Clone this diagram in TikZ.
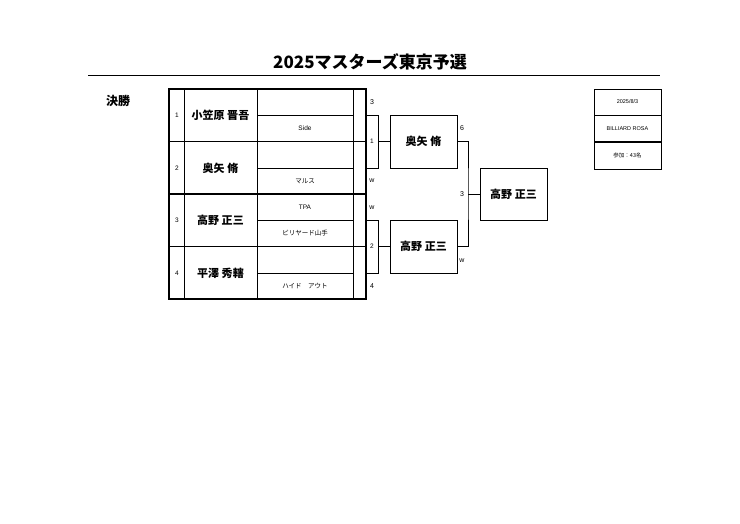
\documentclass[tikz,border=0pt]{standalone}
\usepackage{fontspec}
\setmainfont{Liberation Sans}
\newfontfamily\jp{Noto Sans CJK JP}
\usetikzlibrary{positioning}

\tikzset{
    cell/.style={draw, line width=0.6pt, inner sep=0pt},
    player/.style={font=\jp\bfseries\fontsize{11}{11}\selectfont},
    small/.style={font=\fontsize{6.5}{7}\selectfont},
    score/.style={font=\fontsize{7}{8}\selectfont}
}

\begin{document}
\begin{tikzpicture}[x=1pt, y=-1pt]
\useasboundingbox (0,0) rectangle (740,523);

% title
\node[font=\jp\bfseries\fontsize{17}{17}\selectfont] (title) at (370,62) {2025マスターズ東京予選};
\draw[line width=0.5pt] (88,75) -- (660,75);
\node[font=\jp\bfseries\fontsize{12}{12}\selectfont] (round) at (118,101) {決勝};

% entry table
\draw[line width=0.6pt] (184,89) -- (184,299)
    (257,89) -- (257,299)
    (353,89) -- (353,299);
\foreach \y in {115,168,220,273}
    \draw[line width=0.5pt] (257,\y) -- (353,\y);
\foreach \y in {141.5,194,246.5}
    \draw[line width=1.2pt] (169,\y) -- (366,\y);
\draw[line width=1.2pt] (169,89) rectangle (366,299);

\foreach \n/\name/\y in {1/小笠原 晋吾/115, 2/奥矢 脩/168, 3/高野 正三/220, 4/平澤 秀轄/273} {
    \node[small] (no\n) at (177,\y) {\n};
    \node[player] (p\n) at (220.5,\y) {\name};
}
\node[small] (c1) at (305,128) {Side};
\node[small, font=\jp\fontsize{6.5}{7}\selectfont] (c2) at (305,181) {マルス};
\node[small] (c3) at (305,207) {TPA};
\node[small, font=\jp\fontsize{6.5}{7}\selectfont] (c4) at (305,233) {ビリヤード山手};
\node[small, font=\jp\fontsize{6.5}{7}\selectfont] (c5) at (305,286) {ハイド\quad アウト};

% bracket
\node[cell, minimum width=12pt, minimum height=53pt, small] (s1) at (372,141.5) {1};
\node[cell, minimum width=12pt, minimum height=53pt, small] (s2) at (372,246.5) {2};
\node[cell, minimum width=67pt, minimum height=53pt, player] (b1) at (423.5,141.5) {奥矢 脩};
\node[cell, minimum width=67pt, minimum height=53pt, player] (b2) at (423.5,246.5) {高野 正三};
\node[cell, minimum width=67pt, minimum height=52pt, player] (f) at (513.5,194) {高野 正三};
\coordinate (j) at (468,194);

\draw[line width=0.5pt] (s1) -- (b1);
\draw[line width=0.5pt] (s2) -- (b2);
\draw[line width=0.5pt] (b1.east) -| (j) |- (b2.east);
\draw[line width=0.5pt] (j) -- (f);

\node[score] (r1) at (372,102) {3};
\node[score] (r2) at (372,181) {w};
\node[score] (r3) at (372,208) {w};
\node[score] (r4) at (372,286) {4};
\node[score] (r5) at (462,128) {6};
\node[score] (r6) at (462,194) {3};
\node[score] (r7) at (462,261) {w};

% info
\node[cell, minimum width=67pt, minimum height=26pt, font=\fontsize{5.5}{6}\selectfont] (date) at (627.5,102) {2025/8/3};
\node[cell, minimum width=67pt, minimum height=26pt, font=\fontsize{5.5}{6}\selectfont, below=0pt of date] (venue) {BILLIARD ROSA};
\node[cell, minimum width=67pt, minimum height=27pt, font=\jp\fontsize{5.5}{6}\selectfont, below=0pt of venue] (count) {参加：43名};
\end{tikzpicture}
\end{document}
